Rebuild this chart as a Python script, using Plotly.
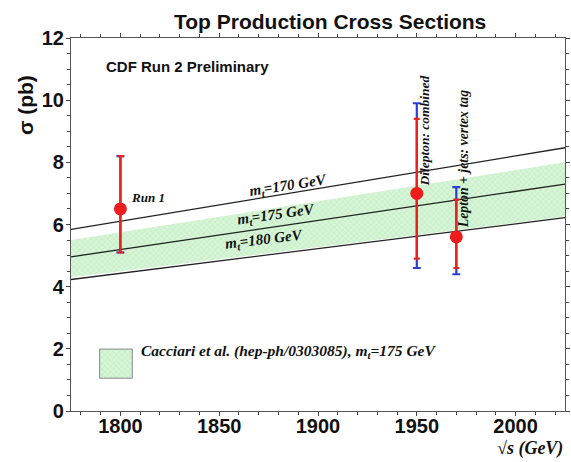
import plotly.graph_objects as go

# Measurements: sqrt(s) [GeV], cross section [pb], stat (inner) and total (outer) errors
meas_names = ["Run 1", "Dilepton: combined", "Lepton + jets: vertex tag"]
meas_x = [1800, 1950, 1970]
meas_y = [6.5, 7.0, 5.6]
stat_up = [1.7, 2.4, 1.2]
stat_dn = [1.4, 2.1, 1.0]
tot_up = [1.7, 2.9, 1.6]
tot_dn = [1.4, 2.4, 1.2]

# Theory curves (Cacciari et al.) at the ends of the energy range
theory_x = [1775, 2025]
mt170_y = [5.84, 8.47]
mt175_y = [4.96, 7.30]
mt180_y = [4.23, 6.22]
band_hi = [5.50, 8.00]
band_lo = [4.30, 6.25]

x_ticks = [1800, 1850, 1900, 1950, 2000]
y_ticks = [0, 2, 4, 6, 8, 10, 12]

GREEN = "rgba(190,235,190,0.75)"
SERIF = "Liberation Serif"
SANS = "Liberation Sans"
HATCH = dict(shape="x", fgcolor="rgba(120,200,120,0.6)",
             bgcolor="rgba(215,245,215,1)", size=4, solidity=0.25)

fig = go.Figure()

# Theory uncertainty band (hatched)
fig.add_trace(go.Scatter(x=theory_x, y=band_lo, mode="lines", line=dict(width=0),
                         showlegend=False, hoverinfo="skip"))
fig.add_trace(go.Scatter(x=theory_x, y=band_hi, mode="lines", line=dict(width=0),
                         fill="tonexty", fillcolor=GREEN, fillpattern=HATCH,
                         showlegend=False, hoverinfo="skip"))

for yy in (mt170_y, mt175_y, mt180_y):
    fig.add_trace(go.Scatter(x=theory_x, y=yy, mode="lines",
                             line=dict(color="#222222", width=1.3),
                             showlegend=False, hoverinfo="skip"))

# Total errors (blue) underneath, statistical (red) on top
fig.add_trace(go.Scatter(x=meas_x, y=meas_y, mode="markers",
                         marker=dict(size=1, color="rgba(0,0,0,0)"),
                         error_y=dict(type="data", symmetric=False, array=tot_up,
                                      arrayminus=tot_dn, color="#2b3fd6", thickness=2.2, width=4),
                         showlegend=False, hoverinfo="skip"))
fig.add_trace(go.Scatter(x=meas_x, y=meas_y, mode="markers",
                         marker=dict(size=13, color="#ee1c1c"),
                         error_y=dict(type="data", symmetric=False, array=stat_up,
                                      arrayminus=stat_dn, color="#e8231f", thickness=2.2, width=3),
                         showlegend=False, hoverinfo="skip"))

# Legend swatch drawn on an overlay axis spanning the plot area
sw_x = [0.058, 0.124, 0.124, 0.058, 0.058]
sw_y = [0.088, 0.088, 0.166, 0.166, 0.088]
fig.add_trace(go.Scatter(x=sw_x, y=sw_y, xaxis="x2", yaxis="y2", mode="lines",
                         line=dict(color="#888888", width=1), fill="toself",
                         fillcolor=GREEN, fillpattern=HATCH,
                         showlegend=False, hoverinfo="skip"))

anns = []
# Curve labels
for (xx, yy, ang, txt) in [(1885, 7.25, -9, "m<sub>t</sub>=170 GeV"),
                           (1879, 6.3, -8, "m<sub>t</sub>=175 GeV"),
                           (1873, 5.5, -7, "m<sub>t</sub>=180 GeV")]:
    anns.append(dict(x=xx, y=yy, text=f"<b><i>{txt}</i></b>", showarrow=False,
                     textangle=ang, font=dict(family=SERIF, size=15, color="#111")))
# Measurement labels
anns.append(dict(x=1814, y=6.86, text=f"<b><i>{meas_names[0]}</i></b>", showarrow=False,
                 font=dict(family=SERIF, size=13, color="#111")))
anns.append(dict(x=1953.8, y=9.0, text=f"<b><i>{meas_names[1]}</i></b>", showarrow=False,
                 textangle=-90, font=dict(family=SERIF, size=13.5, color="#111")))
anns.append(dict(x=1973.4, y=8.1, text=f"<b><i>{meas_names[2]}</i></b>", showarrow=False,
                 textangle=-90, font=dict(family=SERIF, size=13.8, color="#111")))
# Headers and legend text
anns.append(dict(xref="paper", yref="paper", x=0.524, y=1.0, yanchor="bottom", yshift=3,
                 text="<b>Top Production Cross Sections</b>", showarrow=False,
                 font=dict(family=SANS, size=21, color="#111")))
anns.append(dict(xref="paper", yref="paper", x=0.066, y=0.952, xanchor="left",
                 text="<b>CDF Run 2 Preliminary</b>", showarrow=False,
                 font=dict(family=SANS, size=15, color="#111")))
anns.append(dict(xref="paper", yref="paper", x=0.138, y=0.128, xanchor="left",
                 text="<b><i>Cacciari et al. (hep-ph/0303085), m<sub>t</sub>=175 GeV</i></b>",
                 showarrow=False, font=dict(family=SERIF, size=15.5, color="#111")))
anns.append(dict(xref="paper", yref="paper", x=1.0, y=-0.068, xanchor="right", yanchor="top",
                 text="<b><i>\u221As (GeV)</i></b>", showarrow=False,
                 font=dict(family=SERIF, size=18, color="#111")))
anns.append(dict(xref="paper", yref="paper", x=-0.092, y=0.905, xanchor="center",
                 text="<b>\u03c3 (pb)</b>", textangle=-90, showarrow=False,
                 font=dict(family=SANS, size=21, color="#111")))

fig.update_layout(
    width=571, height=462,
    margin=dict(l=71, r=1, t=38, b=51),
    paper_bgcolor="white", plot_bgcolor="white",
    showlegend=False,
    annotations=anns,
    xaxis=dict(range=[1775, 2025], tickvals=x_ticks, ticks="outside", ticklen=4,
               tickcolor="#444", showline=True, linecolor="#555", linewidth=1.2, mirror="ticks",
               showgrid=False, zeroline=False, ticklabelstandoff=-7,
               minor=dict(dtick=10, ticks="outside", ticklen=3, tickcolor="#444"),
               tickfont=dict(family=SANS, size=20, color="#111", weight="bold")),
    yaxis=dict(range=[0, 12], tickvals=y_ticks, ticks="outside", ticklen=4,
               tickcolor="#444", showline=True, linecolor="#555", linewidth=1.2, mirror="ticks",
               showgrid=False, zeroline=False, ticklabelstandoff=-2,
               minor=dict(dtick=0.5, ticks="outside", ticklen=3, tickcolor="#444"),
               tickfont=dict(family=SANS, size=20, color="#111", weight="bold")),
    xaxis2=dict(range=[0, 1], overlaying="x", visible=False, fixedrange=True),
    yaxis2=dict(range=[0, 1], overlaying="y", visible=False, fixedrange=True),
)

fig.write_html("out.html")
